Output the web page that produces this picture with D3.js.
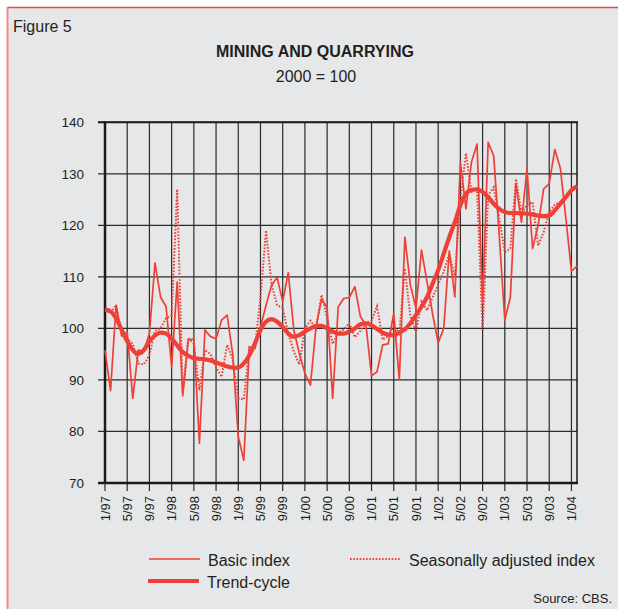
<!DOCTYPE html>
<html>
<head>
<meta charset="utf-8">
<script src="https://cdn.jsdelivr.net/npm/d3@7"></script>
<style>
  html, body { margin: 0; padding: 0; background: #fff; }
  svg { display: block; font-family: "Liberation Sans", Arial, sans-serif; }
</style>
</head>
<body>
<div id="chart"></div>
<script>
// monthly series, 1/97 .. 2/04
const basicIndex = [
  95.8, 87.9, 104.5, 98.5, 99.3, 86.4, 95.8, 95.6, 99.0, 112.7, 106.1, 104.2,
  92.5, 109.0, 86.9, 97.7, 98.0, 77.7, 99.7, 98.4, 98.0, 101.6, 102.6, 95.0,
  79.0, 74.4, 96.4, 96.1, 100.3, 104.5, 108.4, 109.9, 105.2, 110.8, 99.7, 95.1,
  91.3, 89.0, 100.3, 105.7, 104.0, 86.4, 104.2, 105.8, 106.0, 108.1, 102.3, 100.6,
  90.8, 91.6, 96.8, 97.0, 102.9, 90.0, 117.7, 108.4, 103.9, 115.2, 109.0, 102.8,
  97.2, 100.0, 115.0, 106.1, 132.3, 123.2, 132.3, 135.8, 105.0, 136.1, 133.5, 118.0,
  101.6, 106.1, 128.1, 120.6, 131.0, 115.5, 120.0, 127.1, 128.1, 134.7, 131.1, 121.3,
  111.1, 112.1
];
const seasAdjusted = [
  103.5, 103.0, 104.5, 99.0, 98.0, 97.0, 93.2, 93.0, 94.8, 99.5, 100.0, 102.0,
  102.5, 127.0, 87.5, 98.2, 97.0, 88.0, 95.8, 95.0, 92.5, 90.6, 96.8, 94.0,
  86.4, 86.2, 96.4, 96.3, 106.0, 119.0, 108.5, 104.5, 104.0, 99.0, 95.5, 93.0,
  100.0, 101.5, 100.0, 106.5, 102.0, 97.0, 99.2, 99.8, 101.0, 98.3, 99.5, 101.0,
  101.5, 104.3, 97.8, 98.5, 100.5, 99.0, 111.6, 102.3, 99.4, 105.2, 103.5, 106.0,
  108.5, 111.0, 114.5, 110.0, 125.0, 134.0, 126.5, 127.1, 99.4, 125.8, 127.4, 121.3,
  114.8, 115.5, 129.0, 122.3, 124.0, 124.5, 116.1, 118.7, 122.6, 124.0, 124.5, 125.5,
  126.8, 127.8
];
const trendCycle = [
  103.7, 103.3, 102.0, 99.7, 97.5, 95.8, 95.1, 95.8, 97.5, 98.6, 99.2, 99.0,
  98.0, 96.7, 95.4, 94.7, 94.2, 94.1, 94.0, 93.8, 93.4, 93.0, 92.6, 92.4,
  92.4, 93.2, 94.8, 97.1, 99.7, 101.3, 101.8, 101.3, 100.3, 99.0, 98.4, 98.7,
  99.4, 100.0, 100.5, 100.5, 100.0, 99.4, 99.0, 99.0, 99.4, 100.0, 100.8, 101.0,
  100.6, 99.9, 99.2, 98.8, 98.7, 99.2, 99.8, 101.0, 102.6, 104.2, 106.1, 108.7,
  111.3, 114.5, 117.7, 120.6, 123.9, 126.1, 126.9, 127.0, 126.5, 125.5, 124.2, 123.2,
  122.6, 122.4, 122.4, 122.3, 122.3, 122.1, 121.9, 121.8, 121.9, 122.9, 124.2, 125.5,
  126.8, 127.6
];
const tickLabels = [
  "1/97", "5/97", "9/97", "1/98", "5/98", "9/98", "1/99", "5/99", "9/99",
  "1/00", "5/00", "9/00", "1/01", "5/01", "9/01", "1/02", "5/02", "9/02",
  "1/03", "5/03", "9/03", "1/04"
];
const yTicks = [70, 80, 90, 100, 110, 120, 130, 140];

const W = 618, H = 609;
const red = "#ee4036", ink = "#231f20", grid = "#2b2b2b";

const svg = d3.select("#chart").append("svg")
  .attr("width", W)
  .attr("height", H);

// panel
svg.append("rect")
  .attr("x", 7).attr("y", 7)
  .attr("width", W - 7).attr("height", H - 7)
  .attr("fill", "#e6e7e8");
svg.append("line")
  .attr("x1", 7).attr("x2", W).attr("y1", 7.5).attr("y2", 7.5)
  .attr("stroke", "#e9463e").attr("stroke-width", 1.5);
svg.append("line")
  .attr("x1", 7.5).attr("x2", 7.5).attr("y1", 7).attr("y2", H)
  .attr("stroke", "#f08a84").attr("stroke-width", 2);

svg.append("text")
  .attr("x", 13).attr("y", 32)
  .attr("font-size", 16).attr("fill", ink)
  .text("Figure 5");
svg.append("text")
  .attr("x", 315).attr("y", 57)
  .attr("text-anchor", "middle")
  .attr("font-size", 16).attr("font-weight", "bold").attr("fill", ink)
  .text("MINING AND QUARRYING");
svg.append("text")
  .attr("x", 316).attr("y", 82)
  .attr("text-anchor", "middle")
  .attr("font-size", 16).attr("fill", ink)
  .text("2000 = 100");

const x = d3.scaleLinear().domain([0, basicIndex.length - 1]).range([105, 577]);
const y = d3.scaleLinear().domain([70, 140]).range([483, 122.3]);

const g = svg.append("g");

// horizontal grid + y labels
g.selectAll(".hgrid")
  .data(yTicks)
  .enter()
  .append("line")
    .attr("x1", 98).attr("x2", x.range()[1])
    .attr("y1", d => y(d)).attr("y2", d => y(d))
    .attr("stroke", grid).attr("stroke-width", 1.2);
g.selectAll(".ylab")
  .data(yTicks)
  .enter()
  .append("text")
    .attr("x", 84).attr("y", d => y(d))
    .attr("dy", "0.36em")
    .attr("text-anchor", "end")
    .attr("font-size", 13.5).attr("fill", ink)
    .text(d => d);

// vertical grid + x labels (every 4 months)
g.selectAll(".vgrid")
  .data(tickLabels)
  .enter()
  .append("line")
    .attr("x1", (d, i) => x(i * 4)).attr("x2", (d, i) => x(i * 4))
    .attr("y1", y(140)).attr("y2", 491)
    .attr("stroke", grid).attr("stroke-width", 1.2);
g.selectAll(".xlab")
  .data(tickLabels)
  .enter()
  .append("text")
    .attr("transform", (d, i) => `translate(${x(i * 4)},496) rotate(-90)`)
    .attr("dy", "0.36em")
    .attr("text-anchor", "end")
    .attr("font-size", 13).attr("fill", ink)
    .text(d => d);

// plot frame
g.append("line")
  .attr("x1", x(0)).attr("x2", x(0)).attr("y1", y(140) - 1).attr("y2", y(70) + 1)
  .attr("stroke", "#1a1a1a").attr("stroke-width", 2.5);
g.append("line")
  .attr("x1", 98).attr("x2", x.range()[1] + 1).attr("y1", y(70)).attr("y2", y(70))
  .attr("stroke", "#1a1a1a").attr("stroke-width", 2.5);
g.append("line")
  .attr("x1", 98).attr("x2", x.range()[1] + 1).attr("y1", y(140)).attr("y2", y(140))
  .attr("stroke", "#1a1a1a").attr("stroke-width", 2);
g.append("line")
  .attr("x1", x.range()[1]).attr("x2", x.range()[1]).attr("y1", y(140)).attr("y2", y(70))
  .attr("stroke", "#1a1a1a").attr("stroke-width", 1.5);

// series
const straight = d3.line().x((d, i) => x(i)).y(d => y(d));
const smooth = d3.line().x((d, i) => x(i)).y(d => y(d)).curve(d3.curveMonotoneX);

g.append("path")
  .attr("d", straight(basicIndex))
  .attr("fill", "none").attr("stroke", red)
  .attr("stroke-width", 1.7).attr("stroke-linejoin", "round");
g.append("path")
  .attr("d", straight(seasAdjusted))
  .attr("fill", "none").attr("stroke", red)
  .attr("stroke-width", 2).attr("stroke-dasharray", "1.6,1.6");
g.append("path")
  .attr("d", smooth(trendCycle))
  .attr("fill", "none").attr("stroke", red)
  .attr("stroke-width", 4.2).attr("stroke-linejoin", "round");

// legend
const legend = [
  {name: "Basic index", lx: 149, ly: 559, w: 1.7, dash: null},
  {name: "Seasonally adjusted index", lx: 350, ly: 559, w: 2, dash: "1.6,1.6"},
  {name: "Trend-cycle", lx: 148, ly: 581, w: 4.2, dash: null}
];
const lg = svg.append("g");
legend.forEach(item => {
  lg.append("line")
    .attr("x1", item.lx).attr("x2", item.lx + 51)
    .attr("y1", item.ly).attr("y2", item.ly)
    .attr("stroke", red).attr("stroke-width", item.w)
    .attr("stroke-dasharray", item.dash);
  lg.append("text")
    .attr("x", item.lx + 59).attr("y", item.ly + 7)
    .attr("font-size", 16).attr("fill", ink)
    .text(item.name);
});

svg.append("text")
  .attr("x", 612).attr("y", 603)
  .attr("text-anchor", "end")
  .attr("font-size", 13).attr("fill", ink)
  .text("Source: CBS.");
</script>
</body>
</html>
